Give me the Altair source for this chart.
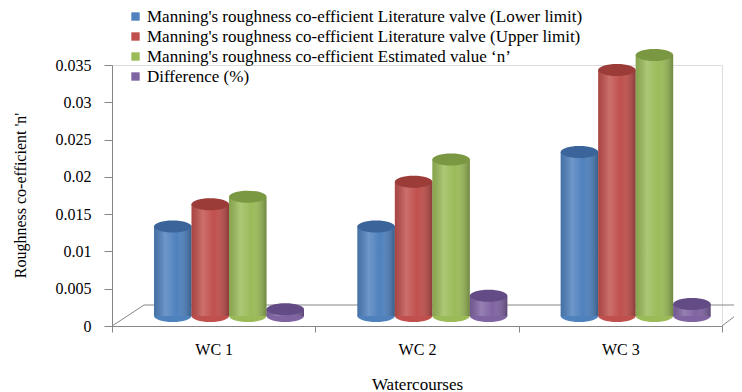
import altair as alt
import pandas as pd

categories = ["WC 1", "WC 2", "WC 3"]
series = [
    "Manning's roughness co-efficient Literature valve (Lower limit)",
    "Manning's roughness co-efficient Literature valve (Upper limit)",
    "Manning's roughness co-efficient Estimated value \u2018n\u2019",
    "Difference (%)",
]
lower_limit = [0.012, 0.012, 0.022]
upper_limit = [0.015, 0.018, 0.033]
estimated_n = [0.016, 0.021, 0.035]
difference = [0.0009, 0.0027, 0.0016]
y_ticks = [0, 0.005, 0.01, 0.015, 0.02, 0.025, 0.03, 0.035]

colors = ["#4F81BD", "#C0504D", "#9BBB59", "#8064A2"]
top_colors = ["#3B659A", "#9C3C39", "#7A9842", "#634C85"]

rows = []
for vals, s in zip([lower_limit, upper_limit, estimated_n, difference], series):
    for c, v in zip(categories, vals):
        rows.append({"cat": c, "series": s, "value": v, "zero": 0.0})
df = pd.DataFrame(rows)

FONT = "Liberation Serif"
ELLIPSE = "M -1 0 A 1 0.32 0 1 1 1 0 A 1 0.32 0 1 1 -1 0 Z"
LIFT = -10
BAR_W = 37.5

x_enc = alt.X("cat:N", sort=categories, title="Watercourses",
              scale=alt.Scale(paddingInner=0, paddingOuter=0),
              axis=alt.Axis(labelAngle=0, tickBand="extent", tickSize=6,
                            labelPadding=9, labelFontSize=16, labelFont=FONT,
                            labelColor="#000", titleFont=FONT, titleFontSize=17,
                            titleFontWeight="normal", titleColor="#000",
                            titleY=58, titleBaseline="middle",
                            domainColor="#868686", tickColor="#868686", grid=False))
xo_enc = alt.XOffset("series:N", sort=series,
                     scale=alt.Scale(range=[42, 192], paddingInner=0, paddingOuter=0))


def y_enc(field):
    return alt.Y(f"{field}:Q", title="Roughness co-efficient 'n'",
                 scale=alt.Scale(domain=[0, 0.035], nice=False, zero=True),
                 axis=alt.Axis(values=y_ticks, format="~g", tickSize=8, labelPadding=13,
                               labelOverlap=False, labelFontSize=16, labelFont=FONT,
                               labelColor="#000", titleFont=FONT, titleFontSize=16,
                               titleFontWeight="normal", titleColor="#000",
                               titleX=-92, titleY=130, titleAlign="center",
                               titleBaseline="middle", domainColor="#868686",
                               tickColor="#868686", grid=False))


color_enc = alt.Color("series:N", sort=series,
                      scale=alt.Scale(domain=series, range=colors),
                      legend=alt.Legend(orient="none", legendX=15, legendY=-57,
                                        title=None, symbolType="square", symbolSize=70,
                                        symbolStrokeWidth=0, labelFont=FONT,
                                        labelFontSize=17, labelColor="#000",
                                        labelLimit=700, rowPadding=2, labelOffset=3,
                                        padding=0))

base = alt.Chart(df)
one = pd.DataFrame({"k": [0]})

floor = alt.Chart(one).mark_rule(color="#868686", strokeWidth=1).encode(
    x=alt.value(32), x2=alt.value(640), y=alt.value(240))
floor_l = alt.Chart(one).mark_rule(color="#868686", strokeWidth=1).encode(
    x=alt.value(0), x2=alt.value(32), y=alt.value(261), y2=alt.value(240))
floor_r = alt.Chart(one).mark_rule(color="#868686", strokeWidth=1).encode(
    x=alt.value(610), x2=alt.value(632), y=alt.value(261), y2=alt.value(244))

bottoms = base.mark_point(shape=ELLIPSE, filled=True, size=BAR_W ** 2, opacity=1,
                          strokeWidth=0, yOffset=LIFT).encode(
    x=x_enc, xOffset=xo_enc, y=y_enc("zero"), color=color_enc)

bars = base.mark_bar(yOffset=LIFT).encode(x=x_enc, xOffset=xo_enc, y=y_enc("value"),
                                          color=color_enc)

shade = base.mark_bar(
    yOffset=LIFT,
    color=alt.Gradient(
        gradient="linear", x1=0, x2=1, y1=0, y2=0,
        stops=[alt.GradientStop(offset=0, color="rgba(0,0,0,0.12)"),
               alt.GradientStop(offset=0.3, color="rgba(255,255,255,0.18)"),
               alt.GradientStop(offset=0.6, color="rgba(255,255,255,0.0)"),
               alt.GradientStop(offset=1, color="rgba(0,0,0,0.28)")])
).encode(x=x_enc, xOffset=xo_enc, y=y_enc("value"))

tops = base.mark_point(shape=ELLIPSE, filled=True, size=BAR_W ** 2, opacity=1,
                       strokeWidth=0, yOffset=LIFT).encode(
    x=x_enc, xOffset=xo_enc, y=y_enc("value"),
    fill=alt.Fill("series:N", scale=alt.Scale(domain=series, range=top_colors), legend=None))

chart = alt.layer(floor, floor_l, floor_r, bottoms, bars, shade, tops).properties(
    width=610, height=261,
    autosize=alt.AutoSizeParams(type="none"),
    padding={"left": 104, "top": 57, "right": 12, "bottom": 66},
).configure_view(stroke=None).configure(
    background="white", font=FONT
).configure_axis(labelFont=FONT, titleFont=FONT).configure_legend(labelFont=FONT)

chart.save("out.html", embed_options={"renderer": "svg", "actions": False})
